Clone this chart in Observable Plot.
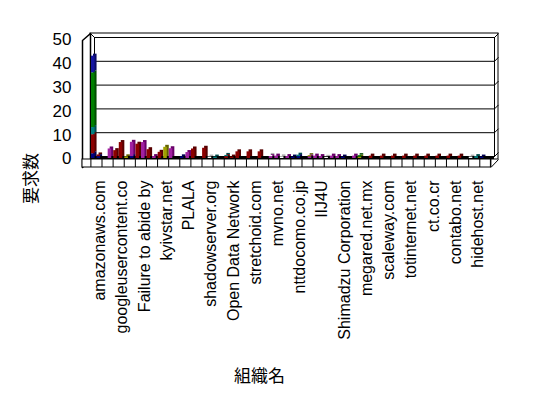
<!DOCTYPE html>
<html><head><meta charset="utf-8">
<script src="https://cdn.jsdelivr.net/npm/d3@7"></script>
<script src="https://cdn.jsdelivr.net/npm/@observablehq/plot@0.6"></script>
<style>
body{margin:0;background:#fff;}
#chart{width:548px;height:398px;}
</style></head><body><div id="chart"></div>
<script>
// ---- data ----
const tickLabels = ["amazonaws.com","googleusercontent.co","Failure to abide by","kyivstar.net","PLALA",
  "shadowserver.org","Open Data Network","stretchoid.com","mvno.net","nttdocomo.co.jp","IIJ4U",
  "Shimadzu Corporation","megared.net.mx","scaleway.com","totinternet.net","ct.co.cr","contabo.net","hidehost.net"];
const slotCount = 72;          // categories along x (every 4th labelled)
const yTicks = [0,10,20,30,40,50];
const seriesNames = ["系列1","系列2","系列3","系列4","系列5","系列6","系列7","系列8"];
const seriesFront = ["#000080","#8b0000","#a020a0","#a0a000","#008080","#008000","#1414a0","#ffffff"];
const seriesSide  = ["#000050","#560000","#680068","#626200","#004c4c","#004c00","#0a0a64","#b0b0b0"];
// [slot, value] pairs per series
const s1 = [[0,2],[1,0.8],[7,0.8],[16,0.7],[36,0.6],[37,0.8],[45,0.6],[70,0.6]];
const s2 = [[0,8],[1,0.7],[4,3.3],[5,6.7],[8,6],[10,3.7],[12,2.6],[18,4],[20,4.3],[24,0.8],[25,0.6],
  [26,2.8],[28,2.8],[30,2.8],[50,1],[52,1],[54,1],[56,1],[58,1],[60,1],[62,1],[64,1],[66,1]];
const s3 = [[3,4],[7,6],[9,6.7],[11,0.8],[14,4.1],[17,2.5],[32,0.8],[33,1],[35,0.8],[39,0.7],[40,1],
  [41,0.8],[43,1],[44,0.8],[47,1]];
const s4 = [[6,0.7],[13,4.7],[39,0.5],[48,0.6]];
const s5 = [[0,3],[22,0.6],[24,0.5],[37,0.6],[69,0.8]];
const s6 = [[0,23],[48,0.6]];
const s7 = [[0,7]];
const s8 = [[21,0.6],[32,0.5],[34,0.7],[42,0.5],[68,0.6]];
const seriesValues = [s1,s2,s3,s4,s5,s6,s7,s8];

const rows = [];
seriesValues.forEach((arr, s) => arr.forEach(([slot, v]) => rows.push({slot, s, name: seriesNames[s], v})));

// ---- geometry helpers (pixel offsets -> data units) ----
const W = 548, H = 398, mL = 94, mR = 54, mT = 37, mB = 242;
const kx = (W - mL - mR) / slotCount, ky = (H - mT - mB) / 50;
const px = X => (X - mL) / kx, py = Y => (H - mB - Y) / ky;
const font = "'Liberation Sans', Arial, 'Noto Sans CJK JP', sans-serif";
const cjk = "'Noto Sans CJK JP', sans-serif";

const leftWall = [[82,40],[90,33],[90,159],[82,167],[82,40]].map(([X,Y]) => ({x: px(X), y: py(Y)}));
const floorCells = d3.range(0, slotCount + 1, 2);

const stackOpts = (fill, dx, dy) => Plot.stackY({
  x: "slot", x1: "slot", x2: d => d.slot + 1, y: "v", fill, insetRight: 2, dx, dy
});

const chart = Plot.plot({
  width: W, height: H,
  marginLeft: mL, marginRight: mR, marginTop: mT, marginBottom: mB,
  x: {domain: [0, slotCount], axis: null},
  y: {domain: [0, 50], axis: null},
  color: {type: "identity"},
  style: {fontFamily: font, fontSize: "16px", color: "black", background: "white"},
  marks: [
    // outer back wall
    Plot.rect([0], {x1: 0, x2: slotCount, y1: 0, y2: 50, insetLeft: -4, insetRight: -4, insetTop: -4, insetBottom: -3, fill: "white", stroke: "black"}),
    // left wall
    Plot.line(leftWall, {x: "x", y: "y", fill: "white", stroke: "black"}),
    // inner back wall + gridlines
    Plot.frame({stroke: "black"}),
    Plot.ruleY(yTicks.slice(1, -1), {stroke: "black"}),
    Plot.link(yTicks, {x1: slotCount, x2: slotCount + 4 / kx, y1: d => d, y2: d => d + 4 / ky, stroke: "black"}),
    Plot.link([50], {x1: 0, x2: -4 / kx, y1: d => d, y2: d => d + 4 / ky, stroke: "black"}),
    // floor
    Plot.rect([0], {x1: 0, x2: slotCount, y1: 0, y2: py(159), insetLeft: -4, fill: "black"}),
    Plot.rect([0], {x1: px(82), x2: px(490.4), y1: py(159), y2: py(167), fill: "white", stroke: "black"}),
    Plot.ruleX(floorCells, {x: d => d, y1: py(159), y2: py(167), dx: -3.6, stroke: "black"}),
    Plot.link([0], {x1: px(490.4), y1: py(167), x2: px(498), y2: py(159), stroke: "black"}),
    // bars: side/top face then front face
    Plot.rect(rows, stackOpts(d => seriesSide[d.s], -1, 0)),
    Plot.rect(rows, stackOpts(d => seriesFront[d.s], -3, 2)),
    // y tick labels
    Plot.text(yTicks, {x: 0, y: d => d, text: d => String(d), textAnchor: "end", dx: -23, dy: 2.5, fontSize: 17, fill: "black"}),
    // x tick labels (every 4th category)
    Plot.text(tickLabels, {x: (d, i) => i * 4 + 1, y: 0, text: d => d, rotate: -90, textAnchor: "end", lineAnchor: "middle", dy: 24, fontSize: 16, fill: "black"}),
    // axis titles
    Plot.text(["要求数"], {frameAnchor: "left", text: d => d, rotate: -90, textAnchor: "middle", lineAnchor: "middle", dx: 31 - mL, dy: 178 - (mT + H - mB) / 2, fontSize: 17, fontFamily: cjk, fill: "black"}),
    Plot.text(["組織名"], {frameAnchor: "bottom", text: d => d, textAnchor: "middle", lineAnchor: "middle", dx: 259 - (mL + W - mR) / 2, dy: 376 - (H - mB), fontSize: 17, fontFamily: cjk, fill: "black"})
  ]
});
document.getElementById("chart").appendChild(chart);
</script>
</body></html>
